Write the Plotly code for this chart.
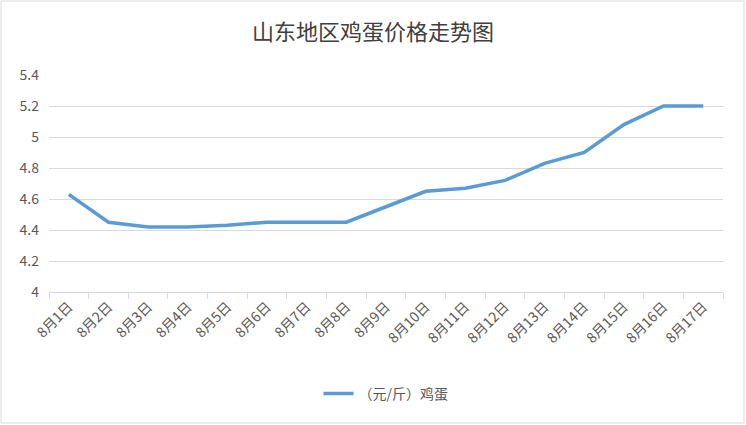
import plotly.graph_objects as go

# Data
dates = ["8月%d日" % d for d in range(1, 18)]
prices = [4.63, 4.45, 4.42, 4.42, 4.43, 4.45, 4.45, 4.45, 4.55,
          4.65, 4.67, 4.72, 4.83, 4.90, 5.08, 5.20, 5.20]
y_ticks = [4, 4.2, 4.4, 4.6, 4.8, 5, 5.2, 5.4]

font = "Noto Sans CJK SC"

fig = go.Figure()
fig.add_trace(go.Scatter(
    x=dates, y=prices, mode="lines", name="（元/斤）鸡蛋",
    line=dict(color="#5b9bd5", width=3.5),
))

fig.update_layout(
    width=746, height=425,
    margin=dict(l=49, r=23, t=75, b=133),
    paper_bgcolor="white", plot_bgcolor="white",
    font=dict(family=font, color="#595959", size=14),
    title=dict(text="山东地区鸡蛋价格走势图", x=0.5, xanchor="center",
               y=0.925, yanchor="middle",
               font=dict(family=font, size=22, color="#404040")),
    showlegend=True,
    legend=dict(orientation="h", x=0.5, xanchor="center", y=-0.47,
                yanchor="middle", font=dict(size=14, color="#595959")),
    xaxis=dict(
        type="category", tickangle=-45, tickson="boundaries",
        range=[-0.5, len(dates) - 0.5], automargin=False,
        ticks="outside", ticklen=6, tickcolor="#d9d9d9",
        showline=True, linecolor="#d9d9d9", linewidth=1,
        showgrid=False, tickfont=dict(size=14),
    ),
    yaxis=dict(
        range=[4, 5.4], tickvals=y_ticks, ticktext=[str(v) for v in y_ticks],
        showgrid=True, gridcolor="#d9d9d9", gridwidth=1, automargin=False,
        zeroline=False, showline=False, ticks="", ticklabelstandoff=9,
        tickfont=dict(size=14),
    ),
    shapes=[dict(type="rect", xref="paper", yref="paper",
                 x0=-48 / 674, x1=1 + 21 / 674, y0=-131 / 217, y1=1 + 74 / 217,
                 line=dict(color="#d9d9d9", width=1))],
)

# remove the default page margin so the chart sits at the window origin
fig.write_html("out.html", config={"displayModeBar": False},
               post_script="document.body.style.margin='0';")
